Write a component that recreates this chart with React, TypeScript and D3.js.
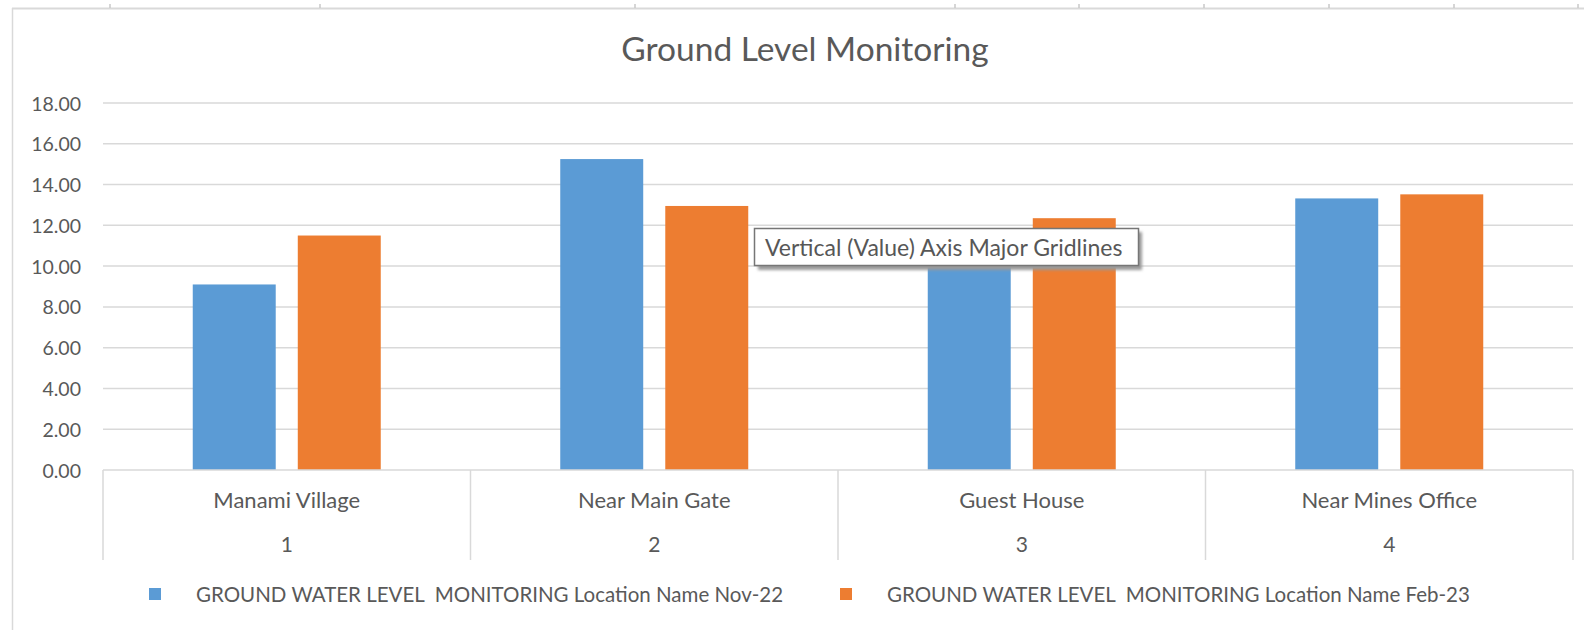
import React from "react";
import * as d3 from "d3";

// chart data
const categories = ["Manami Village", "Near Main Gate", "Guest House", "Near Mines Office"];
const categoryNumbers = ["1", "2", "3", "4"];
const seriesNames = [
  "GROUND WATER LEVEL  MONITORING Location Name Nov-22",
  "GROUND WATER LEVEL  MONITORING Location Name Feb-23",
];
const nov22Values = [9.1, 15.25, 11.2, 13.32];
const feb23Values = [11.5, 12.95, 12.35, 13.52];
const yTicks = [0, 2, 4, 6, 8, 10, 12, 14, 16, 18];
const seriesColors = ["#5B9BD5", "#ED7D31"];

const W = 1584;
const H = 630;
const FONT = "Lato, 'Open Sans', sans-serif";
const TEXT = "#595959";
const GRID = "#d9d9d9";

// spreadsheet column marks peeking above the chart frame
const sheetMarks = [110, 320, 635, 955, 1079, 1204, 1329, 1454, 1578];

export default function App() {
  const margin = { left: 103, right: 1573, top: 103, bottom: 470 };
  const axisBottom = 560;

  const y = d3.scaleLinear().domain([0, 18]).range([margin.bottom, margin.top]);
  const x0 = d3.scaleBand().domain(categories).range([margin.left, margin.right]).padding(0);
  const groupW = 188;
  const x1 = d3
    .scaleBand()
    .domain(seriesNames)
    .range([(x0.bandwidth() - groupW) / 2, (x0.bandwidth() + groupW) / 2])
    .paddingInner(0.21)
    .paddingOuter(0);

  const rows = categories.map((c, i) => ({ cat: c, vals: [nov22Values[i], feb23Values[i]] }));

  const boundaries = categories.map((c) => x0(c)!).concat([margin.right]);

  // legend layout
  const legendY = 594;
  const legendItems = [
    { sq: 149, tx: 196 },
    { sq: 840, tx: 887 },
  ];

  return (
    <svg
      width={W}
      height={H}
      style={{ position: "absolute", left: 0, top: 0, background: "#fff" }}
      fontFamily={FONT}
    >
      <rect x={0} y={0} width={W} height={H} fill="#fff" />
      {/* chart frame */}
      <line x1={12} x2={W} y1={8.5} y2={8.5} stroke="#d9d9d9" strokeWidth={2} />
      <line x1={12.5} x2={12.5} y1={8} y2={H} stroke="#d9d9d9" strokeWidth={1.5} />
      {sheetMarks.map((m) => (
        <line key={m} x1={m} x2={m} y1={4} y2={8} stroke="#c8c8c8" strokeWidth={1.5} />
      ))}

      {/* title */}
      <text x={805} y={48} textAnchor="middle" dominantBaseline="central" fontSize={33.5} fill={TEXT}>
        Ground Level Monitoring
      </text>

      {/* gridlines + y labels */}
      {yTicks.map((t) => (
        <g key={t}>
          {t > 0 && (
            <line x1={margin.left} x2={margin.right} y1={y(t)} y2={y(t)} stroke={GRID} strokeWidth={1.5} />
          )}
          <text x={81} y={y(t)} textAnchor="end" dominantBaseline="central" fontSize={19.5} fill={TEXT}>
            {t.toFixed(2)}
          </text>
        </g>
      ))}

      {/* bars */}
      {rows.map((r) => (
        <g key={r.cat} transform={`translate(${x0(r.cat)},0)`}>
          {r.vals.map((v, j) => (
            <rect
              key={j}
              x={x1(seriesNames[j])}
              y={y(v)}
              width={x1.bandwidth()}
              height={y(0) - y(v)}
              fill={seriesColors[j]}
            />
          ))}
        </g>
      ))}

      {/* category axis (multi-level) */}
      <line x1={margin.left} x2={margin.right} y1={y(0)} y2={y(0)} stroke={GRID} strokeWidth={1.5} />
      {boundaries.map((b, i) => (
        <line key={i} x1={b} x2={b} y1={y(0)} y2={axisBottom} stroke={GRID} strokeWidth={1.5} />
      ))}
      {categories.map((c, i) => (
        <g key={c}>
          <text
            x={x0(c)! + x0.bandwidth() / 2}
            y={499}
            textAnchor="middle"
            dominantBaseline="central"
            fontSize={22}
            fill={TEXT}
          >
            {c}
          </text>
          <text
            x={x0(c)! + x0.bandwidth() / 2}
            y={543}
            textAnchor="middle"
            dominantBaseline="central"
            fontSize={21}
            fill={TEXT}
          >
            {categoryNumbers[i]}
          </text>
        </g>
      ))}

      {/* legend */}
      {seriesNames.map((s, i) => (
        <g key={s}>
          <rect x={legendItems[i].sq} y={legendY - 6} width={12} height={12} fill={seriesColors[i]} />
          <text
            x={legendItems[i].tx}
            y={legendY}
            dominantBaseline="central"
            fontSize={20.5}
            fill={TEXT}
            style={{ whiteSpace: "pre" }}
          >
            {s}
          </text>
        </g>
      ))}

      {/* hover tooltip captured in the screenshot */}
      <defs>
        <filter id="tipShadow" x="-10%" y="-50%" width="120%" height="200%">
          <feGaussianBlur stdDeviation={1.5} />
        </filter>
      </defs>
      <rect x={758} y={232} width={384} height={38} fill="#9a9a9a" filter="url(#tipShadow)" />
      <rect x={754.5} y={228.5} width={384} height={37} fill="#fff" stroke="#767676" strokeWidth={1.5} />
      <text x={765} y={247} dominantBaseline="central" fontSize={23} fill="#575757">
        Vertical (Value) Axis Major Gridlines
      </text>
    </svg>
  );
}
